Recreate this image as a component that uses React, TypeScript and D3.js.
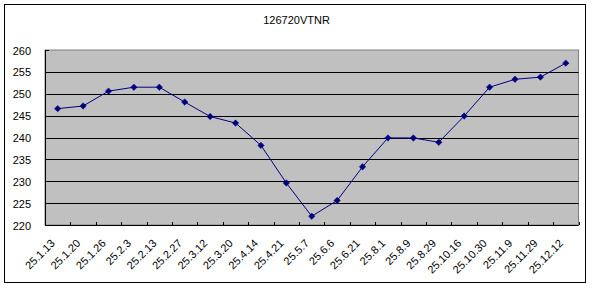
import React from "react";
import * as d3 from "d3";

const title = "126720VTNR";
const categories = [
  "25.1.13", "25.1.20", "25.1.26", "25.2.3", "25.2.13", "25.2.27", "25.3.12",
  "25.3.20", "25.4.14", "25.4.21", "25.5.7", "25.6.6", "25.6.21", "25.8.1",
  "25.8.9", "25.8.29", "25.10.16", "25.10.30", "25.11.9", "25.11.29", "25.12.12",
];
const values = [
  246.6, 247.2, 250.6, 251.5, 251.5, 248.1, 244.8, 243.3, 238.2, 229.6, 222.0,
  225.6, 233.3, 239.9, 239.9, 238.9, 244.9, 251.5, 253.3, 253.8, 257.0,
];
const yTicks = [220, 225, 230, 235, 240, 245, 250, 255, 260];

const W = 592;
const H = 288;
const plot = { left: 45, top: 50, right: 578.5, bottom: 225 };
const FONT = "'Liberation Sans', Arial, sans-serif";
const NAVY = "#000080";

export default function App() {
  const x = d3
    .scaleBand<string>()
    .domain(categories)
    .range([plot.left, plot.right])
    .paddingInner(0)
    .paddingOuter(0);
  const y = d3.scaleLinear().domain([220, 260]).range([plot.bottom, plot.top]);
  const cx = (c: string) => (x(c) as number) + x.bandwidth() / 2;

  const line = d3
    .line<number>()
    .x((_, i) => cx(categories[i]))
    .y((v) => y(v));

  const boundaries = d3.range(categories.length + 1).map(
    (k) => plot.left + k * x.bandwidth()
  );

  const r = 3.2;
  const diamond = `M0,${-r}L${r},0L0,${r}L${-r},0Z`;

  return (
    <svg
      width={W}
      height={H}
      style={{ position: "absolute", left: 0, top: 0, background: "#fff" }}
    >
      <rect x={0} y={0} width={W} height={H} fill="#fff" />
      <rect x={4.5} y={4.5} width={581} height={278} fill="#fff" stroke="#000" strokeWidth={1} />
      <text x={296.5} y={24} textAnchor="middle" fontFamily={FONT} fontSize={11} fill="#000">
        {title}
      </text>
      <rect
        x={plot.left}
        y={plot.top}
        width={plot.right - plot.left}
        height={plot.bottom - plot.top}
        fill="#C0C0C0"
        stroke="#808080"
        strokeWidth={1}
      />
      {yTicks.map((t) => (
        <line
          key={"g" + t}
          x1={plot.left}
          x2={plot.right}
          y1={Math.round(y(t)) + 0.5}
          y2={Math.round(y(t)) + 0.5}
          stroke="#000"
          strokeWidth={1}
          opacity={t === 260 ? 0 : 1}
        />
      ))}
      {yTicks.map((t) => (
        <line
          key={"yt" + t}
          x1={plot.left}
          x2={plot.left + 4}
          y1={Math.round(y(t)) + 0.5}
          y2={Math.round(y(t)) + 0.5}
          stroke="#000"
        />
      ))}
      <line x1={plot.left + 0.5} x2={plot.left + 0.5} y1={plot.top} y2={plot.bottom} stroke="#000" />
      <line x1={plot.left} x2={plot.right} y1={plot.bottom + 0.5} y2={plot.bottom + 0.5} stroke="#000" />
      {boundaries.map((b, i) => (
        <line
          key={"xt" + i}
          x1={Math.round(b) + 0.5}
          x2={Math.round(b) + 0.5}
          y1={plot.bottom - 3}
          y2={plot.bottom}
          stroke="#000"
        />
      ))}
      {yTicks.map((t) => (
        <text
          key={"yl" + t}
          x={31}
          y={y(t) + 4.5}
          textAnchor="end"
          fontFamily={FONT}
          fontSize={11}
          fill="#000"
        >
          {t}
        </text>
      ))}
      {categories.map((c) => (
        <text
          key={"xl" + c}
          transform={`translate(${cx(c) - 2},${244}) rotate(-45)`}
          textAnchor="end"
          fontFamily={FONT}
          fontSize={11}
          fill="#000"
        >
          {c}
        </text>
      ))}
      <path d={line(values) || ""} fill="none" stroke={NAVY} strokeWidth={1} />
      {values.map((v, i) => (
        <path
          key={"m" + i}
          d={diamond}
          transform={`translate(${cx(categories[i])},${y(v)})`}
          fill={NAVY}
          stroke={NAVY}
          strokeWidth={0.5}
        />
      ))}
    </svg>
  );
}
